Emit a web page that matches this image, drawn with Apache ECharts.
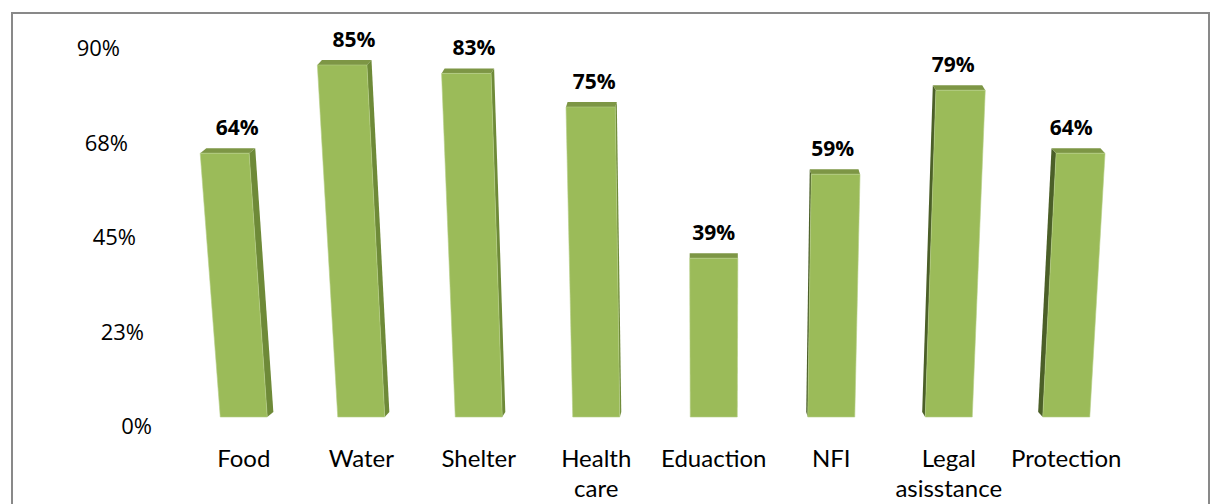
<!DOCTYPE html>
<html>
<head>
<meta charset="utf-8">
<script src="https://cdn.jsdelivr.net/npm/echarts@6/dist/echarts.min.js"></script>
<style>
  html, body { margin: 0; padding: 0; background: #fff; }
  #chart { width: 1215px; height: 504px; }
</style>
</head>
<body>
<div id="chart"></div>
<script>
// data
const categories = ["Food", "Water", "Shelter", "Health\ncare", "Eduaction", "NFI", "Legal\nasisstance", "Protection"];
const shares = [64, 85, 83, 75, 39, 59, 79, 64];
const yMax = 90;
const yStep = 22.5; // ticks show as 0% 23% 45% 68% 90%

// fake 3d look: columns lean away from the 5th column
const VANISH_INDEX = 4;
const TILT = 0.000154;

const chart = echarts.init(document.getElementById("chart"), null, { renderer: "svg" });

function renderBar(params, api) {
  const idx = api.value(0);
  const val = api.value(1);
  const base = api.coord([idx, 0]);
  const top = api.coord([idx, val]);
  const depth = 5;
  const xc = base[0], yb = base[1], yt = top[1] + depth;
  const hw = api.size([1, 0])[0] * 0.2;
  const vx = api.coord([VANISH_INDEX, 0])[0];
  const P = (x, y) => [vx + (x - vx) * (1 + TILT * (yb - y)), y];
  const dx = -(xc - vx) * 0.013, dy = -depth;
  const mv = (p) => [p[0] + dx, p[1] + dy];

  const bl = P(xc - hw, yb), br = P(xc + hw, yb), tr = P(xc + hw, yt), tl = P(xc - hw, yt);
  let side;
  if (dx >= 0) side = [br, tr, mv(tr), mv(br)];
  else side = [bl, tl, mv(tl), mv(bl)];

  const mid = P(xc, yt)[0];
  return {
    type: "group",
    children: [
      { type: "polygon", shape: { points: side }, style: { fill: dx >= 0 ? "#6e8a38" : "#4b5f28" } },
      { type: "polygon", shape: { points: [tl, tr, mv(tr), mv(tl)] }, style: { fill: "#7d9645" } },
      { type: "polygon", shape: { points: [bl, br, tr, tl] }, style: { fill: "#9bbb59", stroke: "#b5cf86", lineWidth: 0.6 } },
      {
        type: "text",
        style: {
          text: val + "%",
          x: (xc + mid) / 2 + dx / 2,
          y: top[1] - 21,
          align: "center",
          verticalAlign: "middle",
          font: 'bold 21px "Open Sans"',
          fill: "#000"
        }
      }
    ]
  };
}

// y labels drift outwards with the perspective too
const labelPad = {};
for (let i = 0; i * yStep <= yMax; i++) {
  labelPad["t" + i] = { padding: [16, i * 8, 0, 0], fontSize: 22, fontFamily: "Open Sans", color: "#000" };
}

chart.setOption({
  animation: false,
  graphic: [
    { type: "rect", shape: { x: 12, y: 13, width: 1197, height: 540 }, style: { fill: "none", stroke: "#898989", lineWidth: 2 } }
  ],
  grid: { left: 185, right: 90, top: 39, bottom: 87 },
  xAxis: {
    type: "category",
    data: categories,
    axisLine: { show: false },
    axisTick: { show: false },
    axisLabel: {
      interval: 0,
      margin: 25,
      fontFamily: "Lato",
      fontSize: 24,
      lineHeight: 30,
      color: "#000"
    }
  },
  yAxis: {
    type: "value",
    min: 0,
    max: yMax,
    interval: yStep,
    axisLine: { show: false },
    axisTick: { show: false },
    splitLine: { show: false },
    axisLabel: {
      margin: 33,
      formatter: function (v) {
        return "{t" + Math.round(v / yStep) + "|" + Math.round(v) + "%}";
      },
      rich: labelPad
    }
  },
  series: [
    {
      type: "custom",
      renderItem: renderBar,
      encode: { x: 0, y: 1 },
      clip: false,
      data: shares.map((v, i) => [i, v])
    }
  ]
});
</script>
</body>
</html>
